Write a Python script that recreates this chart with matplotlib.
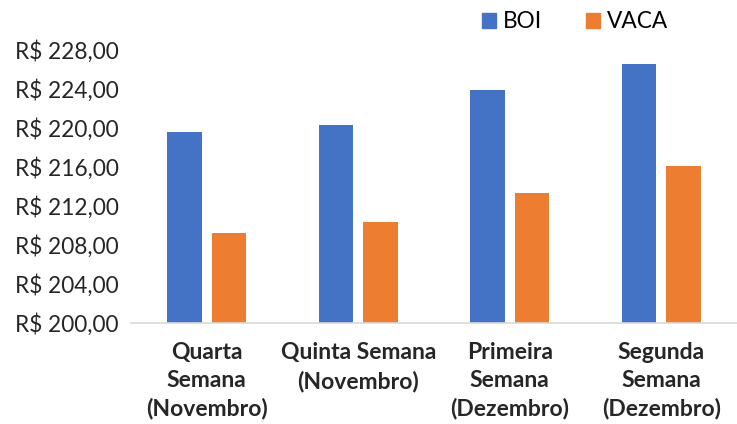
import numpy as np
import matplotlib.pyplot as plt
from matplotlib.patches import Patch

# dados
categorias = ['Quarta\nSemana\n(Novembro)', 'Quinta Semana\n(Novembro)',
              'Primeira\nSemana\n(Dezembro)', 'Segunda\nSemana\n(Dezembro)']
boi = [219.6, 220.3, 223.9, 226.6]
vaca = [209.2, 210.4, 213.3, 216.1]
y_ticks = [200, 204, 208, 212, 216, 220, 224, 228]

cor_boi = '#4472C4'
cor_vaca = '#ED7D31'

plt.rcParams['font.family'] = ['Lato', 'DejaVu Sans']

fig = plt.figure(figsize=(7.37, 4.24), dpi=100)
ax = fig.add_axes([131 / 737, (424 - 323) / 424, (737 - 131) / 737, 273 / 424])

x = np.arange(len(categorias))
w = 0.228
ax.bar(x - 0.147, boi, w, color=cor_boi)
ax.bar(x + 0.147, vaca, w, color=cor_vaca)

ax.set_ylim(200, 228)
ax.set_xlim(-0.5, len(categorias) - 0.5)
ax.set_yticks(y_ticks)
ax.set_yticklabels([f'R$ {v:.2f}'.replace('.', ',') for v in y_ticks], fontsize=16.3, color='#262626')
ax.set_xticks(x)
ax.set_xticklabels(categorias, fontsize=16.5, fontweight='bold', color='#262626', linespacing=1.38)
ax.tick_params(axis='both', length=0)
ax.tick_params(axis='y', pad=9)
ax.tick_params(axis='x', pad=14)

for s in ['top', 'right', 'left']:
    ax.spines[s].set_visible(False)
ax.spines['bottom'].set_color('#D9D9D9')
ax.spines['bottom'].set_linewidth(1.2)

handles = [Patch(color=cor_boi, label='BOI'), Patch(color=cor_vaca, label='VACA')]
fig.legend(handles=handles, loc='center', bbox_to_anchor=(575 / 737, 1 - 22 / 424), ncol=2,
           frameon=False, fontsize=16.3, handlelength=0.65, handleheight=0.65,
           handletextpad=0.3, columnspacing=1.9)

fig.savefig('out.png', dpi=100)
